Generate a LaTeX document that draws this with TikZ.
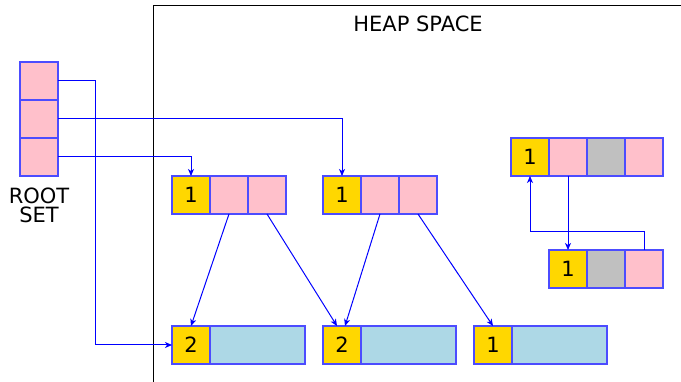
\documentclass[tikz,border=0pt]{standalone}
\usepackage{fontspec}
\setmainfont{DejaVu Sans}
\usepackage{tikz}
\usetikzlibrary{arrows.meta}
\definecolor{gold}{HTML}{FFD700}
\definecolor{pinkc}{HTML}{FFC0CB}
\definecolor{greyc}{HTML}{C0C0C0}
\definecolor{bluec}{HTML}{ADD8E6}
\tikzset{cell/.style={draw=blue!70, line width=1.2pt, minimum width=38pt, minimum height=38pt, inner sep=0pt, outer sep=0pt}}
\tikzset{cnt/.style={cell, fill=gold}}
\tikzset{ptr/.style={draw=blue, line width=1pt, -{Stealth[length=7pt, width=6pt, inset=2pt]}}}

\begin{document}
\begin{tikzpicture}[x=1pt, y=-1pt, font=\fontsize{21}{19}\selectfont]
\useasboundingbox (0,0) rectangle (681,382);

% heap boundary
\draw[line width=1pt] (153,382) -- (153,6) -- (681,6);
\node (heap) at (418,24) {HEAP SPACE};

% root set
\node[cell, fill=pinkc] (r1) at (39,81) {};
\node[cell, fill=pinkc] (r2) at (39,119) {};
\node[cell, fill=pinkc] (r3) at (39,157) {};
\node[align=center, inner sep=0pt] (roots) at (39,205) {ROOT\\SET};

% live objects
\node[cnt] (a0) at (191,195) {1};
\node[cell, fill=pinkc] (a1) at (229,195) {};
\node[cell, fill=pinkc] (a2) at (267,195) {};

\node[cnt] (b0) at (342,195) {1};
\node[cell, fill=pinkc] (b1) at (380,195) {};
\node[cell, fill=pinkc] (b2) at (418,195) {};

% cycle
\node[cnt] (c0) at (530,157) {1};
\node[cell, fill=pinkc] (c1) at (568,157) {};
\node[cell, fill=greyc] (c2) at (606,157) {};
\node[cell, fill=pinkc] (c3) at (644,157) {};

\node[cnt] (d0) at (568,269) {1};
\node[cell, fill=greyc] (d1) at (606,269) {};
\node[cell, fill=pinkc] (d2) at (644,269) {};

% leaves
\node[cnt] (e0) at (191,345) {2};
\node[cell, fill=bluec, minimum width=95pt] (e1) at (257.5,345) {};
\node[cnt] (f0) at (342,345) {2};
\node[cell, fill=bluec, minimum width=95pt] (f1) at (408.5,345) {};
\node[cnt] (g0) at (493,345) {1};
\node[cell, fill=bluec, minimum width=95pt] (g1) at (559.5,345) {};

% pointers
\coordinate (k1) at (95,81);
\draw[ptr] (r1.east) -- (k1) |- (e0.west);
\draw[ptr] (r2.east) -| (b0.north);
\draw[ptr] (r3.east) -| (a0.north);
\draw[ptr] (a1.south) -- (e0.north);
\draw[ptr] (a2.south) -- ([xshift=-5pt]f0.north);
\draw[ptr] (b1.south) -- ([xshift=3pt]f0.north);
\draw[ptr] (b2.south) -- (g0.north);
\draw[ptr] (c1.south) -- (d0.north);
\coordinate (k2) at (644,232);
\draw[ptr] (d2.north) -- (k2) -| (c0.south);

\end{tikzpicture}
\end{document}
